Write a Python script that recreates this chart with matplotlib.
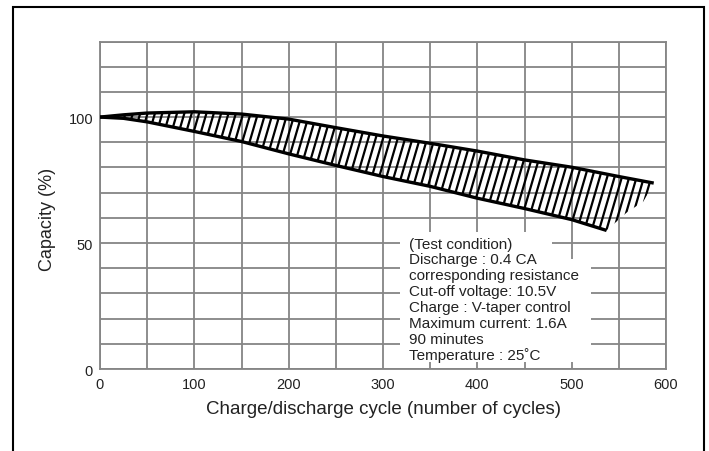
import numpy as np
import matplotlib
matplotlib.use("Agg")
import matplotlib.pyplot as plt
from matplotlib.patches import Polygon, Rectangle
from matplotlib.collections import LineCollection

plt.rcParams['font.family'] = ['Liberation Sans', 'DejaVu Sans']

# ---- data ----
upper_cycles = [0, 25, 50, 100, 150, 200, 250, 300, 350, 400, 450, 500, 550, 587]
upper_capacity = [100, 100.9, 101.6, 102.1, 101.2, 99.2, 95.8, 92.5, 89.6, 86.5, 83.0, 80.1, 76.4, 73.8]

lower_cycles = [0, 25, 50, 100, 150, 200, 250, 300, 350, 400, 450, 500, 537]
lower_capacity = [100, 99.5, 98.1, 94.3, 90.3, 85.4, 80.8, 76.4, 72.5, 67.8, 63.7, 59.3, 55.0]

# open right end of the hatched band (hatch ends only, no outline)
end_cycles = [537, 558, 576, 587]
end_capacity = [55.0, 62.0, 66.5, 73.8]

x_ticks = [0, 100, 200, 300, 400, 500, 600]
y_ticks = [0, 50, 100]

notes = ["(Test condition)",
         "Discharge : 0.4 CA",
         "corresponding resistance",
         "Cut-off voltage: 10.5V",
         "Charge : V-taper control",
         "Maximum current: 1.6A",
         "90 minutes",
         "Temperature : 25\u02daC"]

xlabel = "Charge/discharge cycle (number of cycles)"
ylabel = "Capacity (%)"

# ---- figure ----
W, H = 709, 452
fig = plt.figure(figsize=(W / 100, H / 100), dpi=100)
ax = fig.add_axes([100 / W, 1 - 370 / H, 566 / W, 327.5 / H])

ax.set_xlim(0, 600)
ax.set_ylim(0, 130)
ax.set_xticks(x_ticks)
ax.set_yticks(y_ticks)
ax.set_xticks(np.arange(0, 601, 50), minor=True)
ax.set_yticks(np.arange(0, 131, 10), minor=True)
grid_c = '#858585'
ax.grid(True, which='both', color=grid_c, linewidth=1.3, zorder=0.5)
ax.set_axisbelow(True)
for s in ax.spines.values():
    s.set_color(grid_c)
    s.set_linewidth(1.3)
ax.tick_params(which='both', length=0, labelsize=10.5, labelcolor='#222222')
ax.tick_params(axis='x', pad=6)
ax.tick_params(axis='y', pad=5)
ax.set_xlabel(xlabel, fontsize=13.5, color='#222222', labelpad=6)
ax.set_ylabel(ylabel, fontsize=13, color='#222222')
ax.yaxis.set_label_coords(-0.077, 0.46)

# ---- hatched band ----
band_x = list(upper_cycles) + list(end_cycles[::-1][1:]) + list(lower_cycles[::-1])
band_y = list(upper_capacity) + list(end_capacity[::-1][1:]) + list(lower_capacity[::-1])
poly = Polygon(np.column_stack([band_x, band_y]), closed=True, fill=False,
               edgecolor='none', transform=ax.transData)
ax.add_patch(poly)

slope = 1.28   # capacity units per cycle along a hatch line
spacing = 7.8
segs = []
for c in np.arange(-60, 700, spacing):
    y0, y1 = 40, 115
    segs.append([(c, y0), (c + (y1 - y0) / slope, y1)])
hatch = LineCollection(segs, colors='black', linewidths=1.6, zorder=3)
ax.add_collection(hatch)
hatch.set_clip_path(poly)

ax.plot(upper_cycles, upper_capacity, color='black', lw=2.4, zorder=4,
        solid_capstyle='butt', solid_joinstyle='round')
ax.plot(lower_cycles, lower_capacity, color='black', lw=2.4, zorder=4,
        solid_capstyle='butt', solid_joinstyle='round')

# ---- test condition box ----
ax.add_patch(Rectangle((318, 43.0), 479 - 318, 54.3 - 43.0, facecolor='white',
                       edgecolor='none', zorder=2))
ax.add_patch(Rectangle((318, 2.8), 520 - 318, 43.5 - 2.8, facecolor='white',
                       edgecolor='none', zorder=2))
line_step = 6.32
for i, t in enumerate(notes):
    ax.text(327.5, 49.8 - i * line_step, t, fontsize=11, color='#222222',
            ha='left', va='center', zorder=5)

# ---- outer frame ----
fig.add_artist(Rectangle((13 / W, -0.05), (704 - 13) / W, 1.05 - 8 / H,
                         transform=fig.transFigure, fill=False,
                         edgecolor='black', linewidth=1.5))

fig.savefig("out.png", dpi=100)
